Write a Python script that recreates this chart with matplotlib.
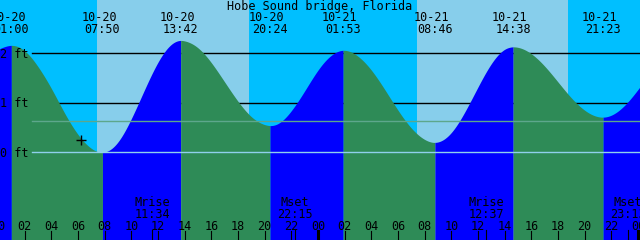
import numpy as np
import matplotlib
matplotlib.use('Agg')
import matplotlib.pyplot as plt
from matplotlib.transforms import blended_transform_factory

title = 'Hobe Sound bridge, Florida'

# tide height (ft), every hour from 10-20 00:00
hours = list(range(50))
heights = [2.08, 2.16, 2.05, 1.73, 1.29, 0.79, 0.36, 0.08, 0.00, 0.21,
           0.68, 1.27, 1.82, 2.18, 2.25, 2.11, 1.81, 1.42, 1.03, 0.72,
           0.56, 0.58, 0.84, 1.24, 1.66, 1.96, 2.06, 1.94, 1.66, 1.27,
           0.85, 0.49, 0.26, 0.21, 0.40, 0.81, 1.32, 1.79, 2.08, 2.12,
           1.99, 1.74, 1.42, 1.10, 0.85, 0.72, 0.75, 0.95, 1.27, 1.64]

# high / low tides
tide_dates = ['10-20', '10-20', '10-20', '10-20', '10-21', '10-21', '10-21', '10-21']
tide_times = ['01:00', '07:50', '13:42', '20:24', '01:53', '08:46', '14:38', '21:23']
tide_days = [0, 0, 0, 0, 1, 1, 1, 1]
tide_heights = [2.16, 0.00, 2.26, 0.54, 2.06, 0.20, 2.13, 0.71]
tide_kinds = ['high', 'low', 'high', 'low', 'high', 'low', 'high', 'low']

# sunrise / sunset
sun_times = ['07:24', '18:50', '07:24', '18:44']
sun_days = [0, 0, 1, 1]

# moon
moon_labels = ['Mrise', 'Mset', 'Mrise', 'Mset']
moon_times = ['11:34', '22:15', '12:37', '23:13']
moon_days = [0, 0, 1, 1]

depths = [0, 1, 2]
msl = 0.64
now_time = 6.23
now_height = 0.25

night = '#00BFFF'
day = '#87CEEB'
flood = '#0000FF'
ebb = '#2E8B57'

t_start, t_end = 0.15, 48.15
px_per_ft = 49.5
y_top = 152.3 / px_per_ft
y_bot = -(240 - 152.3) / px_per_ft


def to_hours(s, d):
    h, m = s.split(':')
    return d * 24 + int(h) + int(m) / 60.0


def smooth(x, y, xn):
    # natural cubic spline through the read points, only for drawing
    x = np.asarray(x, float)
    y = np.asarray(y, float)
    n = len(x)
    h = np.diff(x)
    d = np.diff(y) / h
    A = np.zeros((n, n))
    r = np.zeros(n)
    A[0, 0] = A[-1, -1] = 1
    for i in range(1, n - 1):
        A[i, i - 1] = h[i - 1]
        A[i, i] = 2 * (h[i - 1] + h[i])
        A[i, i + 1] = h[i]
        r[i] = 6 * (d[i] - d[i - 1])
    M = np.linalg.solve(A, r)
    i = np.clip(np.searchsorted(x, xn) - 1, 0, n - 2)
    a = x[i + 1] - xn
    b = xn - x[i]
    hi = h[i]
    return (M[i] * a**3 / (6 * hi) + M[i + 1] * b**3 / (6 * hi)
            + (y[i] / hi - M[i] * hi / 6) * a + (y[i + 1] / hi - M[i + 1] * hi / 6) * b)


ext_t = [to_hours(s, d) for s, d in zip(tide_times, tide_days)]

# merge hourly readings with the extremes
pts = [(t, v) for t, v in zip(ext_t, tide_heights)]
for t, v in zip(hours, heights):
    if min(abs(t - e) for e in ext_t) > 0.25:
        pts.append((t, v))
pts.sort()
px, py = zip(*pts)

fig = plt.figure(figsize=(6.4, 2.4), dpi=100)
ax = fig.add_axes([0, 0, 1, 1])
ax.set_xlim(t_start, t_end)
ax.set_ylim(y_bot, y_top)
ax.axis('off')
tr = blended_transform_factory(ax.transData, ax.transAxes)
fs = 8.5
mono = 'DejaVu Sans Mono'


def yf(pix):
    return 1 - pix / 240.0


# sky
sun_t = [to_hours(s, d) for s, d in zip(sun_times, sun_days)]
edges = [t_start - 1] + sun_t + [t_end + 1]
for i in range(len(edges) - 1):
    ax.axvspan(edges[i], edges[i + 1], color=night if i % 2 == 0 else day, lw=0, zorder=0)

# depth lines (behind the water)
for dpt in depths[1:]:
    ax.axhline(dpt, xmin=32 / 640, xmax=1, color='black', lw=1.0, zorder=1)

# water
tt = np.sort(np.concatenate([np.linspace(t_start - 1, t_end + 1, 3000), ext_t]))
hh = smooth(px, py, tt)
bounds = [t_start - 1] + ext_t + [t_end + 1]
for i in range(len(bounds) - 1):
    a, b = bounds[i], bounds[i + 1]
    mask = (tt >= a) & (tt <= b)
    rising = (i < len(tide_kinds) and tide_kinds[i] == 'high') or i == len(tide_kinds)
    ax.fill_between(tt[mask], hh[mask], y_bot, color=flood if rising else ebb,
                    lw=0, zorder=2)

# datum and mean sea level
ax.axhline(0, xmin=32 / 640, xmax=1, color='#8FD0EC', lw=1.0, zorder=3)
ax.axhline(msl, xmin=32 / 640, xmax=1, color='#5DA78C', lw=1.0, zorder=3)

for dpt in depths:
    ax.text(0, yf(152.3 - dpt * px_per_ft + 4.5), f'{dpt} ft', transform=ax.transAxes,
            ha='left', va='baseline', family=mono, fontsize=fs, zorder=5)

ax.plot([now_time], [now_height], marker='+', color='black', ms=7, mew=1, zorder=5)

# titles and tide labels
ax.text(0.5, yf(10), title, transform=ax.transAxes, ha='center', va='baseline',
        family=mono, fontsize=fs, zorder=5)
for t, dt, tm in zip(ext_t, tide_dates, tide_times):
    ax.text(t - 0.25, yf(21), dt, transform=tr, ha='center', va='baseline',
            family=mono, fontsize=fs, zorder=5)
    ax.text(t, yf(33), tm, transform=tr, ha='center', va='baseline',
            family=mono, fontsize=fs, zorder=5)

# hour axis
for h in range(0, 50, 2):
    ax.text(h, yf(230), f'{h % 24:02d}', transform=tr, ha='center', va='baseline',
            family=mono, fontsize=fs, zorder=5)
    ax.axvline(h, ymin=0, ymax=9 / 240, color='black',
               lw=2.2 if h % 24 == 0 else 0.8, zorder=5)

# moon
for lab, tm, d in zip(moon_labels, moon_times, moon_days):
    t = to_hours(tm, d)
    ax.text(t, yf(206), lab, transform=tr, ha='center', va='baseline',
            family=mono, fontsize=fs, zorder=5)
    ax.text(t, yf(217.7), tm, transform=tr, ha='center', va='baseline',
            family=mono, fontsize=fs, zorder=5)
    ax.axvline(t, ymin=0, ymax=10 / 240, color='black', lw=0.8, zorder=5)

fig.savefig('out.png', dpi=100)
